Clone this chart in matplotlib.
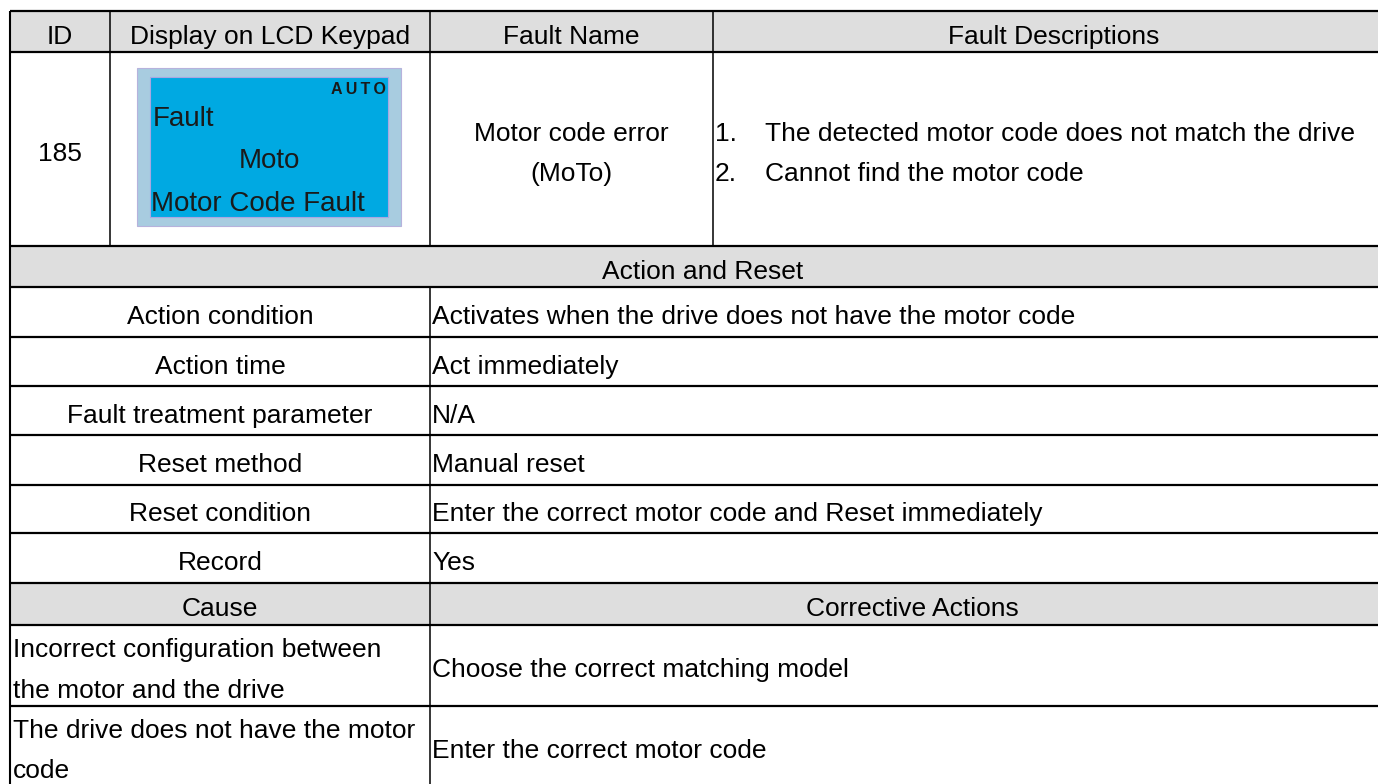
"""Fault table 185 (MoTo) redrawn as a matplotlib figure, pixel coordinates."""
import matplotlib
matplotlib.use("Agg")
import matplotlib.pyplot as plt
from matplotlib.patches import Rectangle

plt.rcParams["font.family"] = ["Liberation Sans", "DejaVu Sans"]

# ---- table content ----
header = ["ID", "Display on LCD Keypad", "Fault Name", "Fault Descriptions"]
fault_id = "185"
lcd_mode = "AUTO"
lcd_lines = ["Fault", "Moto", "Motor Code Fault"]
fault_name = ["Motor code error", "(MoTo)"]
descriptions = ["The detected motor code does not match the drive",
                "Cannot find the motor code"]
section_title = "Action and Reset"
action_keys = ["Action condition", "Action time", "Fault treatment parameter",
               "Reset method", "Reset condition", "Record"]
action_vals = ["Activates when the drive does not have the motor code",
               "Act immediately", "N/A", "Manual reset",
               "Enter the correct motor code and Reset immediately", "Yes"]
cause_header = ["Cause", "Corrective Actions"]
causes = [["Incorrect configuration between", "the motor and the drive"],
          ["The drive does not have the motor", "code"]]
actions = ["Choose the correct matching model", "Enter the correct motor code"]

# ---- layout (pixels, y grows downward) ----
W, H = 1378, 784
col_x = [10, 110, 430, 713, 1395]          # table runs past the right edge
top = 11
row_h = [41, 194, 41, 50, 49, 49, 50, 48, 50, 42, 81, 81]
row_y = [top]
for h in row_h:
    row_y.append(row_y[-1] + h)
mid = [(a + b) / 2 for a, b in zip(row_y[:-1], row_y[1:])]
BASE = 12          # baseline offset from cell centre
LSP = 40           # line pitch for two-line cells
FS = 19
GRAY = "#dedede"

fig = plt.figure(figsize=(W / 100, H / 100), dpi=100)
ax = fig.add_axes([0, 0, 1, 1])
ax.set_xlim(0, W); ax.set_ylim(H, 0); ax.axis("off")

x0, x1 = col_x[0], col_x[-1]
for r in (0, 2, 9):
    ax.add_patch(Rectangle((x0, row_y[r]), x1 - x0, row_h[r], fc=GRAY, ec="none", zorder=0))

# grid lines
ax.hlines(row_y, x0, x1, color="black", lw=1.6, zorder=3)
ax.vlines(x0, row_y[0], row_y[-1], color="black", lw=1.5, zorder=3)
for cx in (col_x[1], col_x[3]):
    ax.vlines(cx, row_y[0], row_y[2], color="black", lw=1.1, zorder=3)
ax.vlines(col_x[2], row_y[0], row_y[2], color="black", lw=1.1, zorder=3)
ax.vlines(col_x[2], row_y[3], row_y[-1], color="black", lw=1.1, zorder=3)

def txt(x, y, s, ha="center", **kw):
    ax.text(x, y, s, ha=ha, va="baseline", fontsize=kw.pop("fontsize", FS),
            color=kw.pop("color", "black"), zorder=4, **kw)

# header row
for i, s in enumerate(header):
    txt((col_x[i] + col_x[i + 1]) / 2, mid[0] + BASE, s)

# fault row
txt((col_x[0] + col_x[1]) / 2, mid[1] + BASE, fault_id)
for k, s in enumerate(fault_name):
    txt((col_x[2] + col_x[3]) / 2, mid[1] + BASE + (k - 0.5) * LSP, s)
for k, s in enumerate(descriptions):
    y = mid[1] + BASE + (k - 0.5) * LSP
    txt(col_x[3] + 2, y, f"{k + 1}.", ha="left")
    txt(col_x[3] + 52, y, s, ha="left")

# LCD keypad picture
ax.add_patch(Rectangle((137, 68), 264, 158, fc="#a8cce0", ec="#b6b2dc", lw=0.8, zorder=1))
ax.add_patch(Rectangle((150, 77), 238, 140, fc="#00a9e2", ec="#a9a7e2", lw=0.8, zorder=2))
lcd_c = "#1a1a1a"
txt(386, 94, "\u2009".join(lcd_mode), ha="right", fontsize=11.5, fontweight="bold", color=lcd_c)
txt(153, 126, lcd_lines[0], ha="left", fontsize=20, color=lcd_c)
txt(269, 168, lcd_lines[1], fontsize=20, color=lcd_c)
txt(151, 211, lcd_lines[2], ha="left", fontsize=20, color=lcd_c)

# action and reset block
txt((x0 + x1) / 2, mid[2] + BASE, section_title)
for j, (k, v) in enumerate(zip(action_keys, action_vals)):
    r = 3 + j
    txt((col_x[0] + col_x[2]) / 2, mid[r] + BASE, k)
    txt(col_x[2] + 2, mid[r] + BASE, v, ha="left")

# cause / corrective actions
txt((col_x[0] + col_x[2]) / 2, mid[9] + BASE, cause_header[0])
txt((col_x[2] + x1) / 2, mid[9] + BASE, cause_header[1])
for j, (c, a) in enumerate(zip(causes, actions)):
    r = 10 + j
    for k, s in enumerate(c):
        txt(x0 + 3, mid[r] + BASE + (k - 0.5) * LSP, s, ha="left")
    txt(col_x[2] + 2, mid[r] + BASE, a, ha="left")

fig.savefig("out.png", dpi=100)
